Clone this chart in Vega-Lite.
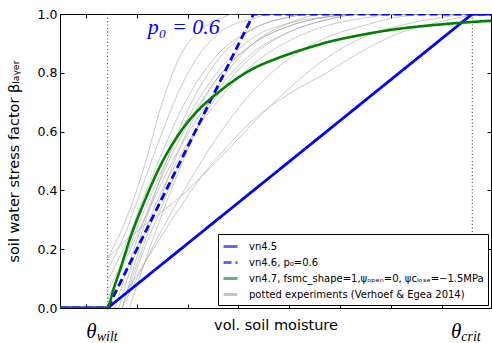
{
  "$schema": "https://vega.github.io/schema/vega-lite/v6.json",
  "width": 431,
  "height": 294,
  "autosize": {"type": "none"},
  "padding": {"left": 60, "top": 14, "right": 1, "bottom": 35},
  "background": "white",
  "config": {
    "view": {"stroke": "black", "strokeWidth": 1},
    "font": "DejaVu Sans",
    "axis": {"grid": false, "domainColor": "black", "tickColor": "black", "labelColor": "black", "titleColor": "black", "titleFontWeight": "normal", "labelFont": "DejaVu Sans", "titleFont": "DejaVu Sans"}
  },
  "datasets": {
    "lines": [
      {"s": "v45", "c": "v45", "u": -0.1308, "b": 0},
      {"s": "v45", "c": "v45", "u": 0, "b": 0},
      {"s": "v45", "c": "v45", "u": 1, "b": 1},
      {"s": "v45", "c": "v45", "u": 1.0513, "b": 1},
      {"s": "v46", "c": "v46", "u": -0.1308, "b": 0},
      {"s": "v46", "c": "v46", "u": 0, "b": 0},
      {"s": "v46", "c": "v46", "u": 0.4, "b": 1},
      {"s": "v46", "c": "v46", "u": 1.0513, "b": 1},
      {"s": "v47", "c": "v47", "u": -0.1308, "b": 0},
      {"s": "v47", "c": "v47", "u": 0, "b": 0},
      {"s": "v47", "c": "v47", "u": 0.006, "b": 0.02},
      {"s": "v47", "c": "v47", "u": 0.015, "b": 0.06},
      {"s": "v47", "c": "v47", "u": 0.034, "b": 0.13},
      {"s": "v47", "c": "v47", "u": 0.061, "b": 0.235},
      {"s": "v47", "c": "v47", "u": 0.1, "b": 0.36},
      {"s": "v47", "c": "v47", "u": 0.135, "b": 0.46},
      {"s": "v47", "c": "v47", "u": 0.2, "b": 0.6},
      {"s": "v47", "c": "v47", "u": 0.25, "b": 0.675},
      {"s": "v47", "c": "v47", "u": 0.3, "b": 0.73},
      {"s": "v47", "c": "v47", "u": 0.35, "b": 0.777},
      {"s": "v47", "c": "v47", "u": 0.4, "b": 0.815},
      {"s": "v47", "c": "v47", "u": 0.45, "b": 0.842},
      {"s": "v47", "c": "v47", "u": 0.5, "b": 0.865},
      {"s": "v47", "c": "v47", "u": 0.55, "b": 0.885},
      {"s": "v47", "c": "v47", "u": 0.6, "b": 0.903},
      {"s": "v47", "c": "v47", "u": 0.7, "b": 0.93},
      {"s": "v47", "c": "v47", "u": 0.8, "b": 0.95},
      {"s": "v47", "c": "v47", "u": 0.9, "b": 0.963},
      {"s": "v47", "c": "v47", "u": 1.0, "b": 0.973},
      {"s": "v47", "c": "v47", "u": 1.0513, "b": 0.977},

      {"s": "pot", "c": "g1", "u": 0, "b": 0.17},
      {"s": "pot", "c": "g1", "u": 0.05, "b": 0.3},
      {"s": "pot", "c": "g1", "u": 0.1, "b": 0.48},
      {"s": "pot", "c": "g1", "u": 0.15, "b": 0.7},
      {"s": "pot", "c": "g1", "u": 0.2, "b": 0.86},
      {"s": "pot", "c": "g1", "u": 0.25, "b": 0.94},
      {"s": "pot", "c": "g1", "u": 0.3, "b": 0.98},
      {"s": "pot", "c": "g1", "u": 0.35, "b": 1},
      {"s": "pot", "c": "g1", "u": 1.0513, "b": 1},

      {"s": "pot", "c": "g2", "u": 0, "b": 0.13},
      {"s": "pot", "c": "g2", "u": 0.05, "b": 0.26},
      {"s": "pot", "c": "g2", "u": 0.1, "b": 0.43},
      {"s": "pot", "c": "g2", "u": 0.15, "b": 0.6},
      {"s": "pot", "c": "g2", "u": 0.2, "b": 0.75},
      {"s": "pot", "c": "g2", "u": 0.25, "b": 0.86},
      {"s": "pot", "c": "g2", "u": 0.3, "b": 0.93},
      {"s": "pot", "c": "g2", "u": 0.4, "b": 0.985},
      {"s": "pot", "c": "g2", "u": 0.45, "b": 1},
      {"s": "pot", "c": "g2", "u": 1.0513, "b": 1},

      {"s": "pot", "c": "g3", "u": 0, "b": 0.095},
      {"s": "pot", "c": "g3", "u": 0.05, "b": 0.22},
      {"s": "pot", "c": "g3", "u": 0.1, "b": 0.38},
      {"s": "pot", "c": "g3", "u": 0.15, "b": 0.53},
      {"s": "pot", "c": "g3", "u": 0.2, "b": 0.67},
      {"s": "pot", "c": "g3", "u": 0.3, "b": 0.86},
      {"s": "pot", "c": "g3", "u": 0.4, "b": 0.95},
      {"s": "pot", "c": "g3", "u": 0.5, "b": 0.99},
      {"s": "pot", "c": "g3", "u": 0.55, "b": 1},
      {"s": "pot", "c": "g3", "u": 1.0513, "b": 1},

      {"s": "pot", "c": "g4", "u": 0, "b": 0.06},
      {"s": "pot", "c": "g4", "u": 0.05, "b": 0.18},
      {"s": "pot", "c": "g4", "u": 0.1, "b": 0.33},
      {"s": "pot", "c": "g4", "u": 0.15, "b": 0.47},
      {"s": "pot", "c": "g4", "u": 0.2, "b": 0.6},
      {"s": "pot", "c": "g4", "u": 0.3, "b": 0.8},
      {"s": "pot", "c": "g4", "u": 0.4, "b": 0.92},
      {"s": "pot", "c": "g4", "u": 0.5, "b": 0.97},
      {"s": "pot", "c": "g4", "u": 0.6, "b": 0.99},
      {"s": "pot", "c": "g4", "u": 0.7, "b": 1},
      {"s": "pot", "c": "g4", "u": 1.0513, "b": 1},

      {"s": "pot", "c": "g5", "u": 0.03, "b": 0},
      {"s": "pot", "c": "g5", "u": 0.1, "b": 0.28},
      {"s": "pot", "c": "g5", "u": 0.15, "b": 0.46},
      {"s": "pot", "c": "g5", "u": 0.2, "b": 0.62},
      {"s": "pot", "c": "g5", "u": 0.3, "b": 0.84},
      {"s": "pot", "c": "g5", "u": 0.4, "b": 0.95},
      {"s": "pot", "c": "g5", "u": 0.5, "b": 0.99},
      {"s": "pot", "c": "g5", "u": 0.55, "b": 1},
      {"s": "pot", "c": "g5", "u": 1.0513, "b": 1},

      {"s": "pot", "c": "g6", "u": 0.04, "b": 0},
      {"s": "pot", "c": "g6", "u": 0.1, "b": 0.22},
      {"s": "pot", "c": "g6", "u": 0.15, "b": 0.39},
      {"s": "pot", "c": "g6", "u": 0.2, "b": 0.55},
      {"s": "pot", "c": "g6", "u": 0.3, "b": 0.78},
      {"s": "pot", "c": "g6", "u": 0.4, "b": 0.9},
      {"s": "pot", "c": "g6", "u": 0.5, "b": 0.96},
      {"s": "pot", "c": "g6", "u": 0.6, "b": 0.99},
      {"s": "pot", "c": "g6", "u": 0.7, "b": 1},
      {"s": "pot", "c": "g6", "u": 1.0513, "b": 1},

      {"s": "pot", "c": "g7", "u": 0.05, "b": 0.02},
      {"s": "pot", "c": "g7", "u": 0.1, "b": 0.2},
      {"s": "pot", "c": "g7", "u": 0.15, "b": 0.35},
      {"s": "pot", "c": "g7", "u": 0.2, "b": 0.5},
      {"s": "pot", "c": "g7", "u": 0.3, "b": 0.72},
      {"s": "pot", "c": "g7", "u": 0.4, "b": 0.86},
      {"s": "pot", "c": "g7", "u": 0.5, "b": 0.94},
      {"s": "pot", "c": "g7", "u": 0.6, "b": 0.98},
      {"s": "pot", "c": "g7", "u": 0.7, "b": 1},
      {"s": "pot", "c": "g7", "u": 1.0513, "b": 1},

      {"s": "pot", "c": "g8", "u": 0.053, "b": 0.06},
      {"s": "pot", "c": "g8", "u": 0.1, "b": 0.15},
      {"s": "pot", "c": "g8", "u": 0.15, "b": 0.25},
      {"s": "pot", "c": "g8", "u": 0.2, "b": 0.345},
      {"s": "pot", "c": "g8", "u": 0.25, "b": 0.435},
      {"s": "pot", "c": "g8", "u": 0.3, "b": 0.51},
      {"s": "pot", "c": "g8", "u": 0.4, "b": 0.64},
      {"s": "pot", "c": "g8", "u": 0.5, "b": 0.73},
      {"s": "pot", "c": "g8", "u": 0.6, "b": 0.8},
      {"s": "pot", "c": "g8", "u": 0.7, "b": 0.875},
      {"s": "pot", "c": "g8", "u": 0.8, "b": 0.935},
      {"s": "pot", "c": "g8", "u": 0.9, "b": 0.97},
      {"s": "pot", "c": "g8", "u": 1.0, "b": 0.995},
      {"s": "pot", "c": "g8", "u": 1.0513, "b": 1},

      {"s": "pot", "c": "g9", "u": 0.06, "b": 0.05},
      {"s": "pot", "c": "g9", "u": 0.1, "b": 0.15},
      {"s": "pot", "c": "g9", "u": 0.2, "b": 0.38},
      {"s": "pot", "c": "g9", "u": 0.3, "b": 0.58},
      {"s": "pot", "c": "g9", "u": 0.4, "b": 0.74},
      {"s": "pot", "c": "g9", "u": 0.5, "b": 0.85},
      {"s": "pot", "c": "g9", "u": 0.6, "b": 0.92},
      {"s": "pot", "c": "g9", "u": 0.7, "b": 0.96},
      {"s": "pot", "c": "g9", "u": 0.8, "b": 0.99},
      {"s": "pot", "c": "g9", "u": 0.9, "b": 1},
      {"s": "pot", "c": "g9", "u": 1.0513, "b": 1},

      {"s": "pot", "c": "g10", "u": 0, "b": 0.17},
      {"s": "pot", "c": "g10", "u": 0.05, "b": 0.23},
      {"s": "pot", "c": "g10", "u": 0.1, "b": 0.28},
      {"s": "pot", "c": "g10", "u": 0.2, "b": 0.38},
      {"s": "pot", "c": "g10", "u": 0.3, "b": 0.5},
      {"s": "pot", "c": "g10", "u": 0.4, "b": 0.63},
      {"s": "pot", "c": "g10", "u": 0.5, "b": 0.75},
      {"s": "pot", "c": "g10", "u": 0.6, "b": 0.85},
      {"s": "pot", "c": "g10", "u": 0.7, "b": 0.92},
      {"s": "pot", "c": "g10", "u": 0.8, "b": 0.96},
      {"s": "pot", "c": "g10", "u": 0.9, "b": 0.985},
      {"s": "pot", "c": "g10", "u": 1.0, "b": 1},
      {"s": "pot", "c": "g10", "u": 1.0513, "b": 1},

      {"s": "pot", "c": "g11", "u": 0.02, "b": 0},
      {"s": "pot", "c": "g11", "u": 0.1, "b": 0.3},
      {"s": "pot", "c": "g11", "u": 0.2, "b": 0.58},
      {"s": "pot", "c": "g11", "u": 0.3, "b": 0.78},
      {"s": "pot", "c": "g11", "u": 0.4, "b": 0.9},
      {"s": "pot", "c": "g11", "u": 0.5, "b": 0.96},
      {"s": "pot", "c": "g11", "u": 0.6, "b": 0.99},
      {"s": "pot", "c": "g11", "u": 0.7, "b": 1},
      {"s": "pot", "c": "g11", "u": 1.0513, "b": 1},

      {"s": "pot", "c": "g12", "u": 0.06, "b": 0},
      {"s": "pot", "c": "g12", "u": 0.1, "b": 0.15},
      {"s": "pot", "c": "g12", "u": 0.2, "b": 0.48},
      {"s": "pot", "c": "g12", "u": 0.3, "b": 0.75},
      {"s": "pot", "c": "g12", "u": 0.4, "b": 0.9},
      {"s": "pot", "c": "g12", "u": 0.5, "b": 0.97},
      {"s": "pot", "c": "g12", "u": 0.6, "b": 1},
      {"s": "pot", "c": "g12", "u": 1.0513, "b": 1},

      {"s": "pot", "c": "g13", "u": 0, "b": 0.03},
      {"s": "pot", "c": "g13", "u": 0.1, "b": 0.3},
      {"s": "pot", "c": "g13", "u": 0.2, "b": 0.55},
      {"s": "pot", "c": "g13", "u": 0.3, "b": 0.74},
      {"s": "pot", "c": "g13", "u": 0.4, "b": 0.87},
      {"s": "pot", "c": "g13", "u": 0.5, "b": 0.94},
      {"s": "pot", "c": "g13", "u": 0.6, "b": 0.98},
      {"s": "pot", "c": "g13", "u": 0.7, "b": 1},
      {"s": "pot", "c": "g13", "u": 1.0513, "b": 1},

      {"s": "pot", "c": "g14", "u": 0.04, "b": 0},
      {"s": "pot", "c": "g14", "u": 0.1, "b": 0.25},
      {"s": "pot", "c": "g14", "u": 0.2, "b": 0.52},
      {"s": "pot", "c": "g14", "u": 0.3, "b": 0.7},
      {"s": "pot", "c": "g14", "u": 0.4, "b": 0.83},
      {"s": "pot", "c": "g14", "u": 0.5, "b": 0.91},
      {"s": "pot", "c": "g14", "u": 0.6, "b": 0.96},
      {"s": "pot", "c": "g14", "u": 0.7, "b": 0.985},
      {"s": "pot", "c": "g14", "u": 0.8, "b": 1},
      {"s": "pot", "c": "g14", "u": 1.0513, "b": 1}
    ],
    "bounds": [{"name": "wilt", "u": 0}, {"name": "crit", "u": 1}],
    "ticklabels": [
      {"sym": "θ", "sub": "wilt", "u": 0},
      {"sym": "θ", "sub": "crit", "u": 1}
    ],
    "notes": [{"label": "p₀ = 0.6", "u": 0.11, "b": 0.932}]
  },
  "layer": [
    {
      "data": {"name": "lines"},
      "transform": [{"filter": "datum.s == 'pot'"}],
      "mark": {"type": "line", "interpolate": "monotone", "opacity": 0.6, "strokeWidth": 1, "clip": true},
      "encoding": {
        "x": {"field": "u", "type": "quantitative",
          "scale": {"domain": [-0.1308, 1.0513], "nice": false, "zero": false},
          "axis": {"orient": "bottom", "values": [-0.0595, 0.0798, 0.2191, 0.3584, 0.4977, 0.637, 0.7763, 0.9156], "labels": false, "tickSize": -4, "title": "vol. soil moisture", "titleFontSize": 14.5, "titlePadding": 10}},
        "y": {"field": "b", "type": "quantitative",
          "scale": {"domain": [0, 1], "nice": false},
          "axis": {"orient": "left", "values": [0, 0.2, 0.4, 0.6, 0.8, 1], "format": ".1f", "labelFontSize": 12.5, "labelPadding": 7, "tickSize": -4, "title": "soil water stress factor βₗₐᵧₑᵣ", "titleFontSize": 14.5, "titlePadding": 16}},
        "detail": {"field": "c"},
        "color": {"field": "s", "type": "nominal",
          "scale": {"domain": ["v45", "v46", "v47", "pot"], "range": ["#0000ff", "#0000ff", "#008000", "#a0a0a0"]},
          "legend": {"title": null, "orient": "bottom-right", "offset": 3, "strokeColor": "black", "fillColor": "white", "padding": 4, "labelFontSize": 10, "labelColor": "black", "labelFont": "DejaVu Sans", "symbolType": "stroke", "symbolSize": 196, "symbolStrokeWidth": 2.8, "labelLimit": 400, "rowPadding": 1, "labelOffset": 10,
            "labelExpr": "datum.value == 'v45' ? 'vn4.5' : datum.value == 'v46' ? 'vn4.6, p₀=0.6' : datum.value == 'v47' ? 'vn4.7, fsmc_shape=1,ψₒₚₑₙ=0, ψcₗₒₛₑ=−1.5MPa' : 'potted experiments (Verhoef & Egea 2014)'",
            "encode": {"symbols": {"update": {"strokeWidth": {"signal": "datum.value == 'pot' ? 1.2 : 2.8"}}}}}},
        "strokeDash": {"field": "s", "type": "nominal",
          "scale": {"domain": ["v45", "v46", "v47", "pot"], "range": [[1, 0], [8, 4], [1, 0], [1, 0]]}}
      }
    },
    {
      "data": {"name": "bounds"},
      "mark": {"type": "rule", "color": "#333333", "strokeDash": [1, 2.5], "strokeWidth": 1},
      "encoding": {
        "x": {"field": "u", "type": "quantitative", "axis": null}
      }
    },
    {
      "data": {"name": "lines"},
      "transform": [{"filter": "datum.s == 'v45' || datum.s == 'v46'"}],
      "mark": {"type": "line", "interpolate": "linear", "strokeWidth": 2.8, "clip": true},
      "encoding": {
        "x": {"field": "u", "type": "quantitative",
          "axis": {"orient": "top", "values": [-0.0595, 0.0798, 0.2191, 0.3584, 0.4977, 0.637, 0.7763, 0.9156], "labels": false, "tickSize": -4, "title": null}},
        "y": {"field": "b", "type": "quantitative",
          "axis": {"orient": "right", "values": [0, 0.2, 0.4, 0.6, 0.8, 1], "labels": false, "tickSize": -4, "title": null}},
        "detail": {"field": "c"},
        "color": {"field": "s", "type": "nominal"},
        "strokeDash": {"field": "s", "type": "nominal"}
      }
    },
    {
      "data": {"name": "lines"},
      "transform": [{"filter": "datum.s == 'v47'"}],
      "mark": {"type": "line", "interpolate": "monotone", "strokeWidth": 2.6, "clip": true},
      "encoding": {
        "x": {"field": "u", "type": "quantitative", "axis": null},
        "y": {"field": "b", "type": "quantitative", "axis": null},
        "color": {"field": "s", "type": "nominal"},
        "strokeDash": {"field": "s", "type": "nominal"}
      }
    },
    {
      "data": {"name": "ticklabels"},
      "mark": {"type": "text", "align": "right", "baseline": "alphabetic", "dx": -11, "dy": 30, "font": "Liberation Serif", "fontStyle": "italic", "fontSize": 21, "color": "black"},
      "encoding": {
        "x": {"field": "u", "type": "quantitative", "axis": null},
        "y": {"datum": 0, "type": "quantitative", "axis": null},
        "text": {"field": "sym"}
      }
    },
    {
      "data": {"name": "ticklabels"},
      "mark": {"type": "text", "align": "left", "baseline": "alphabetic", "dx": -11, "dy": 33, "font": "Liberation Serif", "fontStyle": "italic", "fontSize": 14, "color": "black"},
      "encoding": {
        "x": {"field": "u", "type": "quantitative", "axis": null},
        "y": {"datum": 0, "type": "quantitative", "axis": null},
        "text": {"field": "sub"}
      }
    },
    {
      "data": {"name": "notes"},
      "mark": {"type": "text", "align": "left", "baseline": "alphabetic", "font": "Liberation Serif", "fontStyle": "italic", "fontSize": 22, "color": "#0000ff"},
      "encoding": {
        "x": {"field": "u", "type": "quantitative", "axis": null},
        "y": {"field": "b", "type": "quantitative", "axis": null},
        "text": {"field": "label"}
      }
    }
  ],
  "resolve": {"axis": {"x": "independent", "y": "independent"}}
}
